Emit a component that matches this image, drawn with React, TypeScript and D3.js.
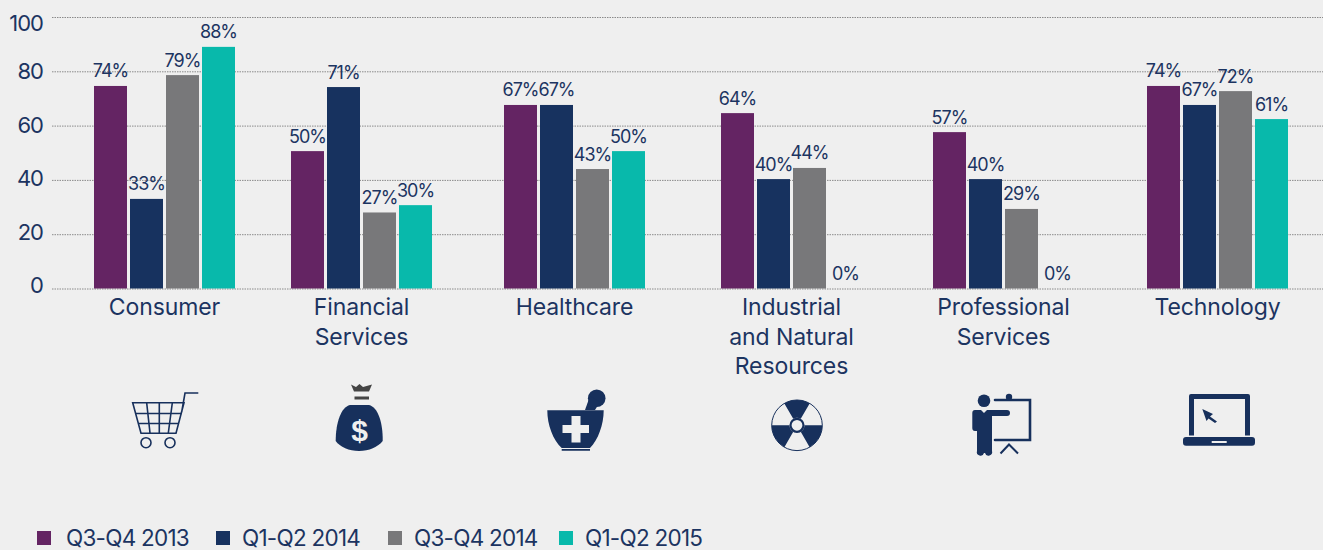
import * as d3 from "d3";
import { useEffect, useRef } from "react";

const categories = ["Consumer", "Financial Services", "Healthcare", "Industrial and Natural Resources", "Professional Services", "Technology"];
const categoryLines = [["Consumer"], ["Financial", "Services"], ["Healthcare"], ["Industrial", "and Natural", "Resources"], ["Professional", "Services"], ["Technology"]];
const periods = ["Q3-Q4 2013", "Q1-Q2 2014", "Q3-Q4 2014", "Q1-Q2 2015"];
const colors = ["#642463", "#17325f", "#78787a", "#08b9ab"];
const yTicks = [0, 20, 40, 60, 80, 100];

// Bar heights as drawn. They don't always agree with the printed label (Financial 71%).
const q3q42013 = [74.6, 50.6, 67.6, 64.6, 57.6, 74.6];
const q1q22014 = [33, 74.2, 67.6, 40.3, 40.3, 67.6];
const q3q42014 = [78.6, 28, 44, 44.4, 29.3, 72.7];
const q1q22015 = [89, 30.7, 50.6, 0, 0, 62.4];
const barValues = [q3q42013, q1q22014, q3q42014, q1q22015];

// Printed labels
const labels2013 = [74, 50, 67, 64, 57, 74];
const labels2014a = [33, 71, 67, 40, 40, 67];
const labels2014b = [79, 27, 43, 44, 29, 72];
const labels2015 = [88, 30, 50, 0, 0, 61];
const labelValues = [labels2013, labels2014a, labels2014b, labels2015];

const WIDTH = 1323;
const HEIGHT = 550;
const FONT = "Inter, sans-serif";
const INK = "#1c3461";
const NAVY = "#17305c";
const BG = "#efefef";

export default function App() {
  const svgRef = useRef<SVGSVGElement>(null);

  useEffect(() => {
    if (!svgRef.current) return;
    const svg = d3.select(svgRef.current);
    svg.selectAll("*").remove();
    svg.append("rect").attr("width", WIDTH).attr("height", HEIGHT).attr("fill", BG);

    const y = d3.scaleLinear().domain([0, 100]).range([288.5, 17]);
    // the groups are not evenly spaced in the original
    const groupX = d3.scaleOrdinal<string, number>().domain(categories).range([94, 291, 504, 721, 933, 1147]);
    const barX = d3.scaleBand().domain(periods).range([0, 141]).paddingInner(3 / 36);

    // Grid
    const grid = svg.append("g").attr("transform", "translate(52,0)")
      .call(d3.axisLeft(y).tickValues(yTicks).tickSize(-(WIDTH - 52)).tickFormat(() => ""));
    grid.select("path.domain").remove();
    grid.selectAll("line")
      .attr("stroke", "#8a8a8a").attr("stroke-width", 1).attr("stroke-dasharray", "1.5 1");

    // Tick labels sit a bit off their gridlines
    const labelY = d3.scaleLinear().domain([0, 80]).range([293, 79]);
    svg.append("g").selectAll("text").data(yTicks).enter().append("text")
      .attr("x", 43).attr("y", (d) => (d === 100 ? 31 : labelY(d)))
      .attr("text-anchor", "end").attr("font-family", FONT).attr("font-size", 22)
      .attr("letter-spacing", -1).attr("fill", INK)
      .text((d) => d);

    // Bars + labels
    periods.forEach((p, s) => {
      const g = svg.append("g");
      g.selectAll("rect").data(categories).enter().append("rect")
        .attr("x", (c) => groupX(c) + barX(p)!)
        .attr("y", (_, i) => y(barValues[s][i]))
        .attr("width", barX.bandwidth())
        .attr("height", (_, i) => y(0) - y(barValues[s][i]))
        .attr("fill", colors[s]);
      g.selectAll("text").data(categories).enter().append("text")
        .attr("x", (c) => groupX(c) + barX(p)! + barX.bandwidth() / 2)
        .attr("y", (_, i) => y(barValues[s][i]) - 8.5)
        .attr("text-anchor", "middle").attr("font-family", FONT).attr("font-size", 18)
        .attr("letter-spacing", -1).attr("fill", INK)
        .text((_, i) => `${labelValues[s][i]}%`);
    });

    // Category labels
    categories.forEach((c, i) => {
      const t = svg.append("text").attr("text-anchor", "middle")
        .attr("font-family", FONT).attr("font-size", 23).attr("letter-spacing", -0.1).attr("fill", INK);
      categoryLines[i].forEach((line, j) => {
        t.append("tspan").attr("x", groupX(c) + 70.5).attr("y", 315 + j * 29.5).text(line);
      });
    });

    // Legend
    const legendX = d3.scaleOrdinal<string, number>().domain(periods).range([37, 216, 388, 559]);
    const legendTextX = d3.scaleOrdinal<string, number>().domain(periods).range([66, 242, 414, 585]);
    const legend = svg.append("g");
    periods.forEach((p, i) => {
      legend.append("rect").attr("x", legendX(p)).attr("y", 531).attr("width", 14).attr("height", 14).attr("fill", colors[i]);
      legend.append("text").attr("x", legendTextX(p)).attr("y", 546)
        .attr("font-family", FONT).attr("font-size", 22.5).attr("letter-spacing", -0.75).attr("fill", INK).text(p);
    });

    // Icons
    const icons = svg.append("g");

    // cart
    const cart = icons.append("g").attr("fill", "none").attr("stroke", NAVY).attr("stroke-width", 1.6);
    cart.append("path").attr("d", "M132.7 402.7H184L176 433.3H141ZM181.7 412L185 393H198.3");
    cart.append("path").attr("d", "M146.7 403L150 433M159.3 403V433M172.3 403L168.3 433M136 413.5H181.5M139 423.5H178.5");
    cart.append("circle").attr("cx", 146).attr("cy", 442.7).attr("r", 5);
    cart.append("circle").attr("cx", 170).attr("cy", 442.7).attr("r", 5);

    // money bag
    icons.append("path").attr("fill", "#444")
      .attr("d", "M351 384.5L356 387L359.5 384L363 387L372 384.5L369 391.5H354ZM354.5 396.5H369V399.5H354.5Z");
    icons.append("path").attr("fill", NAVY)
      .attr("d", "M350 405H369C378 407 383 423 382.7 441C378 447 369 451 359 451C349 451 340 447 335.7 441C335.7 423 341 407 350 405Z");
    icons.append("text").attr("x", 359.5).attr("y", 441).attr("text-anchor", "middle")
      .attr("font-family", "Liberation Sans, sans-serif").attr("font-weight", "bold").attr("font-size", 30)
      .attr("fill", BG).text("$");

    // mortar
    icons.append("circle").attr("cx", 596.7).attr("cy", 398.3).attr("r", 8.8).attr("fill", NAVY);
    icons.append("path").attr("fill", NAVY).attr("d", "M585 410L590 396L600 402L595 410Z");
    icons.append("path").attr("fill", NAVY)
      .attr("d", "M547.3 410.3H603.7C603.7 425 598 440 590 448H561.7C553 440 547.3 425 547.3 410.3ZM561.7 449H590V450.7H561.7Z");
    icons.append("path").attr("fill", BG)
      .attr("d", "M571.5 416H580.5V425H589V433H580.5V442.5H571.5V433H562.5V425H571.5Z");

    // radiation
    const rad = icons.append("g").attr("transform", "translate(797,425.3)");
    rad.append("circle").attr("r", 25.3).attr("fill", "none").attr("stroke", NAVY).attr("stroke-width", 1);
    const wedge = d3.arc<{ a: number; b: number }>().innerRadius(7.5).outerRadius(25.3)
      .startAngle((d) => (d.a * Math.PI) / 180).endAngle((d) => (d.b * Math.PI) / 180);
    rad.selectAll("path").data([{ a: -30, b: 30 }, { a: 90, b: 150 }, { a: 210, b: 270 }]).enter().append("path")
      .attr("d", wedge).attr("fill", NAVY);
    rad.append("circle").attr("r", 6.5).attr("fill", "none").attr("stroke", NAVY).attr("stroke-width", 2.2);

    // presenter
    icons.append("circle").attr("cx", 984).attr("cy", 400.7).attr("r", 6.3).attr("fill", NAVY);
    icons.append("path").attr("fill", NAVY)
      .attr("d", "M975 410H981L984 413L987 410H1007A3 3 0 0 1 1007 416H992V451A3 3 0 0 1 985 453H984A3 3 0 0 1 977 451V431H975Q972.3 431 972.3 428V413Q972.3 410 975 410Z");
    icons.append("path").attr("fill", "none").attr("stroke", NAVY).attr("stroke-width", 2.6).attr("stroke-linecap", "round")
      .attr("d", "M995 400H1030V440H995");
    icons.append("circle").attr("cx", 1009).attr("cy", 397).attr("r", 3.2).attr("fill", NAVY);
    icons.append("path").attr("fill", "none").attr("stroke", NAVY).attr("stroke-width", 2).attr("d", "M1000.5 453.5L1009 444.5L1018 453.5");

    // laptop
    icons.append("path").attr("fill", NAVY).attr("fill-rule", "evenodd")
      .attr("d", "M1191 394H1248Q1250 394 1250 396V435.5H1245V399H1194V435.5H1189V396Q1189 394 1191 394Z");
    icons.append("rect").attr("x", 1183).attr("y", 437).attr("width", 72).attr("height", 8.7).attr("rx", 3).attr("fill", NAVY);
    icons.append("rect").attr("x", 1211.7).attr("y", 441).attr("width", 15).attr("height", 2).attr("fill", BG);
    icons.append("path").attr("fill", NAVY)
      .attr("d", "M1202.3 409L1213 414L1210 416.5L1217 421.5L1215 423L1208.5 418.5L1206.5 421Z");
  }, []);

  return <svg ref={svgRef} width={WIDTH} height={HEIGHT} style={{ position: "fixed", left: 0, top: 0 }} />;
}
